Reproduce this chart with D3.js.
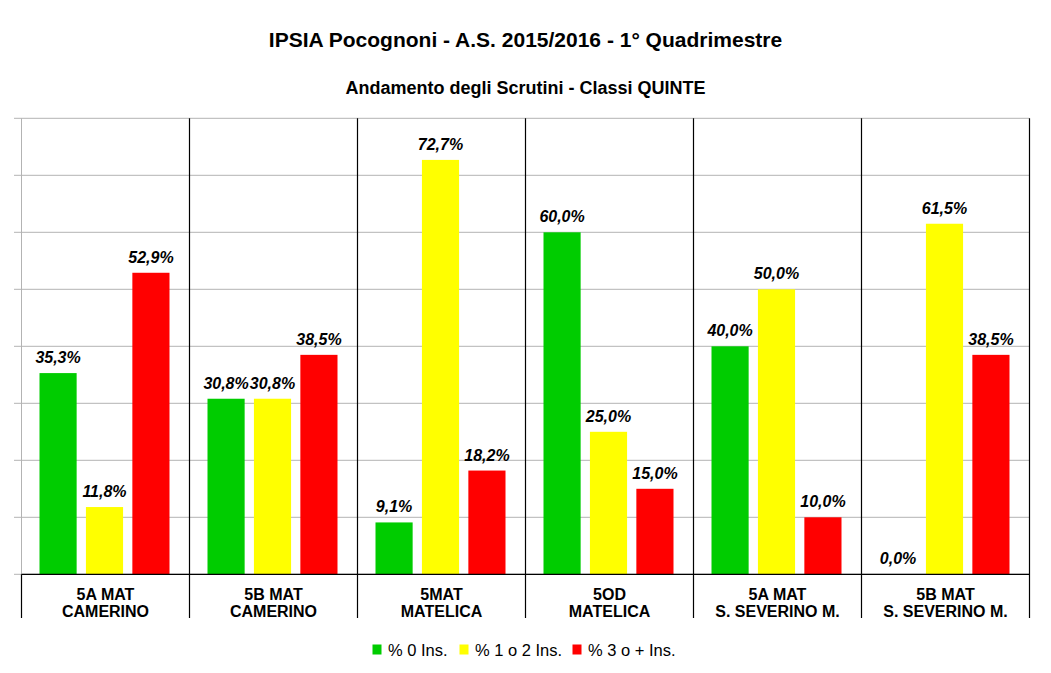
<!DOCTYPE html>
<html><head><meta charset="utf-8">
<script src="https://cdn.jsdelivr.net/npm/d3@7"></script>
<style>body{margin:0;background:#fff}svg{display:block}</style>
</head><body><svg id="c" width="1051" height="673"></svg>
<script>
const categories = [["5A MAT","CAMERINO"],["5B MAT","CAMERINO"],["5MAT","MATELICA"],["5OD","MATELICA"],["5A MAT","S. SEVERINO M."],["5B MAT","S. SEVERINO M."]];
const seriesNames = ["% 0 Ins.","% 1 o 2 Ins.","% 3 o + Ins."];
const seriesColors = ["#00cc00","#ffff00","#ff0000"];
const s0 = [35.3,30.8,9.1,60.0,40.0,0.0];
const s1 = [11.8,30.8,72.7,25.0,50.0,61.5];
const s2 = [52.9,38.5,18.2,15.0,10.0,38.5];
const yTicks = [0,10,20,30,40,50,60,70,80];

const series = [s0,s1,s2];
const svg = d3.select("#c");
const font = "'Liberation Sans', Arial, sans-serif";
const L = 21.5, R = 1029.5, T = 118.3, B = 574.3;

const x0 = d3.scaleBand().domain(d3.range(categories.length)).range([L,R]).padding(0);
const x1 = d3.scaleBand().domain(d3.range(3)).range([18,148]).paddingInner(0.2).paddingOuter(0);
const y = d3.scaleLinear().domain([0,80]).range([B,T]);

// gridlines
svg.append("g").selectAll("line").data(yTicks).join("line")
  .attr("x1",14).attr("x2",R).attr("y1",d=>y(d)).attr("y2",d=>y(d))
  .attr("stroke","#b3b3b3").attr("stroke-width",1);
// left axis gray
svg.append("line").attr("x1",L).attr("x2",L).attr("y1",T).attr("y2",B).attr("stroke","#b3b3b3");

// bars
const g = svg.append("g").selectAll("g").data(categories).join("g")
  .attr("transform",(d,i)=>`translate(${x0(i)},0)`);
g.selectAll("rect").data((d,i)=>series.map((s,k)=>({k,v:s[i]}))).join("rect")
  .attr("x",d=>x1(d.k)).attr("width",x1.bandwidth())
  .attr("y",d=>y(d.v)).attr("height",d=>B-y(d.v))
  .attr("fill",d=>seriesColors[d.k]);
g.selectAll("text.v").data((d,i)=>series.map((s,k)=>({k,v:s[i]}))).join("text")
  .attr("class","v")
  .attr("x",d=>x1(d.k)+x1.bandwidth()/2).attr("y",d=>y(d.v)-10)
  .attr("text-anchor","middle").attr("font-family",font).attr("font-size",16)
  .attr("font-weight","bold").attr("font-style","italic").attr("fill","#000")
  .text(d=>d.v.toFixed(1).replace(".",",")+"%");

// category separators (black)
svg.append("g").selectAll("line").data(d3.range(categories.length+1)).join("line")
  .attr("x1",i=>i<categories.length?x0(i):R).attr("x2",i=>i<categories.length?x0(i):R)
  .attr("y1",i=>i===0?B:T).attr("y2",618).attr("stroke","#000").attr("stroke-width",1.2);
// bottom axis
svg.append("line").attr("x1",L).attr("x2",R).attr("y1",B).attr("y2",B).attr("stroke","#000").attr("stroke-width",1.2);

// category labels
const cl = svg.append("g").selectAll("text").data(categories).join("text")
  .attr("x",(d,i)=>x0(i)+x0.bandwidth()/2).attr("y",599.5)
  .attr("text-anchor","middle").attr("font-family",font).attr("font-size",16).attr("font-weight","bold");
cl.append("tspan").attr("x",(d,i)=>x0(i)+x0.bandwidth()/2).text(d=>d[0]);
cl.append("tspan").attr("x",(d,i)=>x0(i)+x0.bandwidth()/2).attr("dy",17.5).text(d=>d[1]);

// titles
svg.append("text").attr("x",525.5).attr("y",46.5).attr("text-anchor","middle")
  .attr("font-family",font).attr("font-size",21).attr("font-weight","bold").text("IPSIA Pocognoni - A.S. 2015/2016 - 1° Quadrimestre");
svg.append("text").attr("x",525.5).attr("y",94).attr("text-anchor","middle")
  .attr("font-family",font).attr("font-size",18).attr("font-weight","bold").text("Andamento degli Scrutini - Classi QUINTE");

// legend
const lx = [372.5,459.5,572.5];
const lg = svg.append("g").selectAll("g").data(seriesNames).join("g")
  .attr("transform",(d,i)=>`translate(${lx[i]},0)`);
lg.append("rect").attr("x",0).attr("y",644.5).attr("width",9).attr("height",10).attr("fill",(d,i)=>seriesColors[i]);
lg.append("text").attr("x",15.5).attr("y",655.5).attr("font-family",font).attr("font-size",16.5).text(d=>d);
</script></body></html>
